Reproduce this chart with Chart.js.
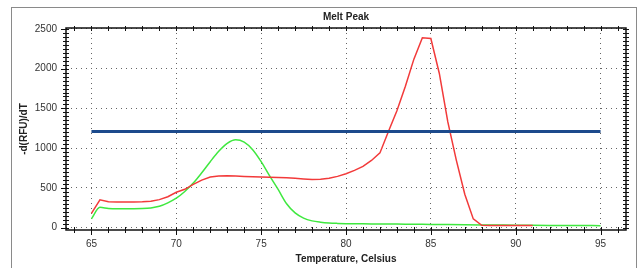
<!DOCTYPE html>
<html>
<head>
<meta charset="utf-8">
<script src="https://cdn.jsdelivr.net/npm/chart.js@4.4.1/dist/chart.umd.min.js"></script>
<style>
  html, body { margin: 0; padding: 0; background: #fff; }
  #wrap { position: relative; width: 638px; height: 268px; overflow: hidden; }
  #frame { position: absolute; left: 11px; top: 7px; width: 626px; height: 290px; border: 1px solid #8a8a8a; box-sizing: border-box; }
  canvas { position: absolute; left: 0; top: 0; }
</style>
</head>
<body>
<div id="wrap">
  <div id="frame"></div>
  <canvas id="meltChart" width="638" height="268"></canvas>
</div>
<script>
// tick labels
const xTicks = [65, 70, 75, 80, 85, 90, 95];
const yTicks = [0, 500, 1000, 1500, 2000, 2500];

// red trace
const redTemps = [65, 65.5, 66, 66.5, 67, 67.5, 68, 68.5, 69, 69.5, 70, 70.5, 71, 71.5, 72, 72.5, 73, 73.5, 74, 74.5,
    75, 75.5, 76, 76.5, 77, 77.5, 78, 78.5, 79, 79.5, 80, 80.5, 81, 81.5, 82, 82.5, 83, 83.5, 84, 84.5,
    85, 85.5, 86, 86.5, 87, 87.5, 88, 88.5, 89, 89.5, 90, 90.5, 91];
const redValues = [180, 350, 326, 322, 322, 322, 324, 332, 352, 388, 445, 482, 545, 598, 637, 650, 652, 648, 643, 640,
    638, 635, 632, 628, 622, 613, 605, 608, 620, 645, 678, 720, 770, 845, 940, 1210, 1470, 1780, 2120, 2390,
    2380, 1940, 1330, 850, 420, 110, 30, 28, 28, 28, 28, 28, 28];

// green trace
const greenTemps = [65, 65.5, 66, 66.5, 67, 67.5, 68, 68.5, 69, 69.5, 70, 70.5, 71, 71.5, 72, 72.5, 73, 73.5, 74, 74.5,
    75, 75.5, 76, 76.5, 77, 77.5, 78, 78.5, 79, 79.5, 80, 81, 82, 83, 84, 85, 86, 87, 88, 89,
    90, 91, 92, 93, 94, 95];
const greenValues = [110, 255, 242, 238, 238, 238, 240, 248, 268, 312, 370, 455, 560, 690, 830, 960, 1060, 1105, 1075, 980,
    830, 650, 480, 300, 185, 120, 85, 68, 58, 53, 50, 48, 46, 44, 42, 40, 38, 36, 34, 32,
    30, 29, 28, 27, 26, 25];

// threshold line
const thresholdTemps = [65, 95];
const thresholdValues = [1210, 1210];

function toPoints(xs, ys) {
    return xs.map((t, i) => ({ x: t, y: ys[i] }));
}

const plotFrame = {
    id: 'plotFrame',
    afterDraw(chart) {
        const { ctx, chartArea: a, scales: { x, y } } = chart;
        ctx.save();
        ctx.strokeStyle = '#111';
        ctx.lineWidth = 1.5;
        ctx.strokeRect(a.left, a.top, a.right - a.left, a.bottom - a.top);

        ctx.lineWidth = 1;
        ctx.beginPath();
        for (let t = 64; t <= 96; t++) {
            const px = Math.round(x.getPixelForValue(t)) + 0.5;
            const major = t % 5 === 0;
            ctx.moveTo(px, a.bottom - 3);
            ctx.lineTo(px, a.bottom + (major ? 5 : 3));
            ctx.moveTo(px, a.top - 2);
            ctx.lineTo(px, a.top + 3);
        }
        for (let v = 0; v <= 2500; v += 50) {
            const py = Math.round(y.getPixelForValue(v)) + 0.5;
            const major = v % 500 === 0;
            ctx.moveTo(a.left - (major ? 5 : 3), py);
            ctx.lineTo(a.left + 3, py);
            ctx.moveTo(a.right - 3, py);
            ctx.lineTo(a.right + 3, py);
        }
        ctx.stroke();

        ctx.fillStyle = '#222';
        ctx.font = 'bold 10px "Liberation Sans", Arial, sans-serif';
        ctx.textAlign = 'center';
        ctx.textBaseline = 'middle';
        ctx.fillText('Melt Peak', (a.left + a.right) / 2, 17);
        ctx.restore();
    }
};

const tickFont = { family: '"Liberation Sans", Arial, sans-serif', size: 10 };
const titleFont = { family: '"Liberation Sans", Arial, sans-serif', size: 10, weight: 'bold' };

new Chart(document.getElementById('meltChart').getContext('2d'), {
    type: 'scatter',
    data: {
        datasets: [{
            label: 'Threshold',
            data: toPoints(thresholdTemps, thresholdValues),
            showLine: true,
            borderColor: '#1c4a8c',
            borderWidth: 3,
            pointRadius: 0
        }, {
            label: 'Sample 1',
            data: toPoints(redTemps, redValues),
            showLine: true,
            borderColor: '#f23a3a',
            borderWidth: 1.5,
            pointRadius: 0,
            tension: 0
        }, {
            label: 'Sample 2',
            data: toPoints(greenTemps, greenValues),
            showLine: true,
            borderColor: '#3fe83f',
            borderWidth: 1.5,
            pointRadius: 0,
            cubicInterpolationMode: 'monotone'
        }]
    },
    options: {
        responsive: false,
        animation: false,
        layout: { padding: { top: 28, right: 12, left: 0, bottom: 0 } },
        plugins: {
            legend: { display: false },
            tooltip: { enabled: false }
        },
        scales: {
            x: {
                type: 'linear',
                min: 63.5,
                max: 96.5,
                afterFit: s => { s.height = 38; },
                afterBuildTicks: s => { s.ticks = xTicks.map(v => ({ value: v })); },
                ticks: { color: '#333', font: tickFont, padding: 8, maxRotation: 0, callback: v => String(v) },
                grid: { color: '#666', lineWidth: 1, drawTicks: false },
                border: { display: false, dash: [1, 4] },
                title: {
                    display: true,
                    text: 'Temperature, Celsius',
                    color: '#222',
                    font: titleFont,
                    padding: { top: 0, bottom: 3 }
                }
            },
            y: {
                type: 'linear',
                min: -30,
                max: 2512,
                afterFit: s => { s.width = 66; },
                afterBuildTicks: s => { s.ticks = yTicks.map(v => ({ value: v })); },
                ticks: { color: '#333', font: tickFont, padding: 9, callback: v => String(v) },
                grid: { color: '#666', lineWidth: 1, drawTicks: false },
                border: { display: false, dash: [1, 4] },
                title: {
                    display: true,
                    text: '-d(RFU)/dT',
                    color: '#222',
                    font: titleFont,
                    padding: { top: 18, bottom: 0 }
                }
            }
        }
    },
    plugins: [plotFrame]
});
</script>
</body>
</html>
